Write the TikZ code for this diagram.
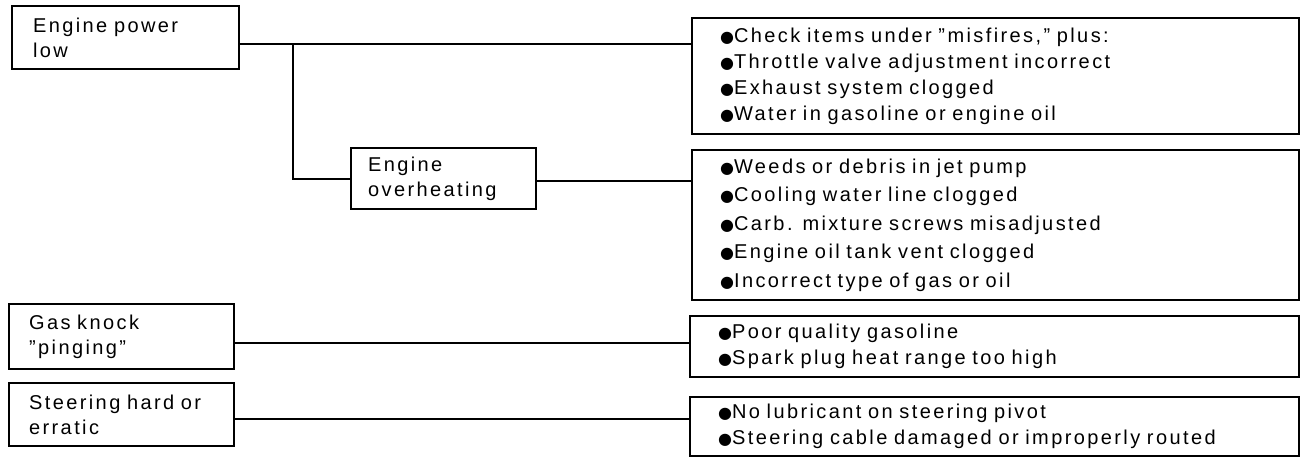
\documentclass[tikz,border=0pt]{standalone}
\usepackage{fontspec}
\setmainfont{Liberation Sans}[LetterSpace=12.0]
\newfontfamily\dotfont{DejaVu Sans}
\usetikzlibrary{positioning,calc}
\newcommand{\bul}{{\dotfont\fontsize{8}{8}\selectfont ●}}

\begin{document}
\begin{tikzpicture}[x=0.5pt, y=-0.5pt,
  sym/.style={draw, line width=1.1pt, anchor=north west, align=left, inner ysep=0pt,
    font=\fontsize{10}{12.5}\selectfont},
  cause/.style={draw, line width=1.1pt, anchor=north west, align=left, inner ysep=0pt,
    inner xsep=14pt, font=\fontsize{10}{13}\selectfont},
  ln/.style={line width=1pt}]
\useasboundingbox (0,0) rectangle (1300,457);
% symptoms
\node[sym, inner xsep=10.5pt, text width=92.5pt, minimum height=31.5pt] (power) at (11,5) {Engine power\\low};
\node[sym, inner xsep=8.5pt, text width=75.5pt, minimum height=30.5pt] (heat) at (350,147) {Engine\\overheating};
\node[sym, inner xsep=10pt, text width=92.5pt, minimum height=32.5pt] (knock) at (8,303) {Gas knock\\''pinging''};
\node[sym, inner xsep=10pt, text width=92.5pt, minimum height=31.5pt] (steer) at (8,382) {Steering hard or\\erratic};
% causes
\node[cause, text width=275.5pt, minimum height=58pt] (c1) at (691,17)
  {\bul Check items under ''misfires,'' plus:\\\bul Throttle valve adjustment incorrect\\\bul Exhaust system clogged\\\bul Water in gasoline or engine oil};
\node[cause, text width=275.5pt, minimum height=75pt, font=\fontsize{10}{14.25}\selectfont] (c2) at (691,149)
  {\bul Weeds or debris in jet pump\\\bul Cooling water line clogged\\\bul Carb. mixture screws misadjusted\\\bul Engine oil tank vent clogged\\\bul Incorrect type of gas or oil};
\node[cause, text width=276.5pt, minimum height=30.5pt] (c3) at (689,315)
  {\bul Poor quality gasoline\\\bul Spark plug heat range too high};
\node[cause, text width=276.5pt, minimum height=29.5pt] (c4) at (689,396)
  {\bul No lubricant on steering pivot\\\bul Steering cable damaged or improperly routed};
% connectors
\coordinate (pw) at ([yshift=-3pt]power.east);
\path (293,0) coordinate (jx);
\coordinate (jct) at (pw -| jx);
\draw[ln] (pw) -- (pw -| c1.west);
\draw[ln] (jct) |- (heat.west);
\coordinate (hw) at ([yshift=-1pt]heat.east);
\draw[ln] (hw) -- (hw -| c2.west);
\coordinate (kw) at ([yshift=-3pt]knock.east);
\draw[ln] (kw) -- (kw -| c3.west);
\coordinate (sw) at ([yshift=-2pt]steer.east);
\draw[ln] (sw) -- (sw -| c4.west);
\end{tikzpicture}
\end{document}
